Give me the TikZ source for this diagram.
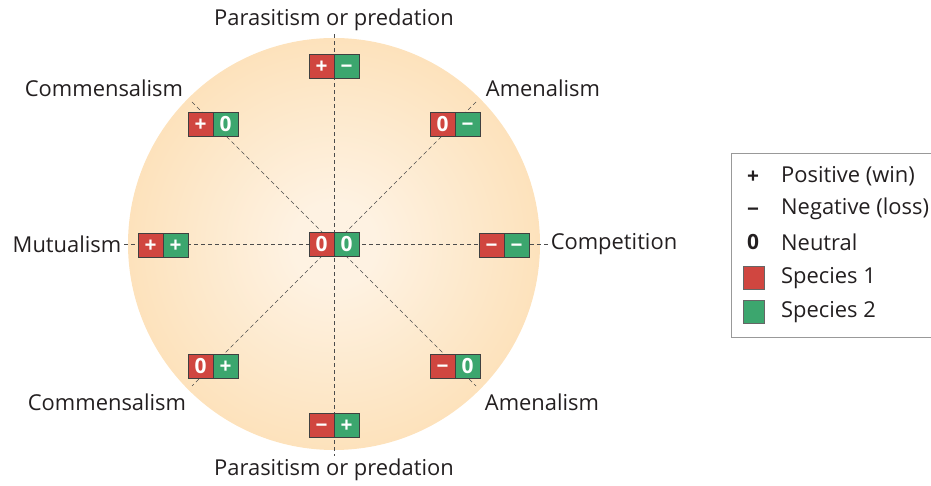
\documentclass[tikz,border=0pt]{standalone}
\usepackage{fontspec}
\setmainfont{Open Sans}
\usetikzlibrary{positioning}
\definecolor{sp1}{RGB}{208,70,64}
\definecolor{sp2}{RGB}{60,166,110}
\definecolor{rimorange}{RGB}{251,206,140}
\definecolor{coreorange}{RGB}{254,242,226}
\definecolor{inktext}{RGB}{35,31,32}
\pgfdeclareradialshading{glow}{\pgfpointorigin}{color(0bp)=(coreorange); color(5bp)=(coreorange); color(50bp)=(rimorange)}
\tikzset{
  half/.style={rectangle,draw=black!75,line width=0.7pt,outer sep=0pt,
    minimum width=25bp,minimum height=24bp,inner sep=0pt,
    text height=15bp,text depth=0bp,
    text=white,font=\fontsize{21}{21}\selectfont\bfseries},
  sp_a/.style={half,fill=sp1},
  sp_b/.style={half,fill=sp2},
  kind/.style={font=\fontsize{22}{26}\selectfont,text=inktext,inner sep=3bp},
  guide/.style={draw=black!70,line width=0.7pt,dash pattern=on 4bp off 3bp},
  legendframe/.style={rectangle,draw=black!40,line width=1pt,fill=white,
    minimum width=210bp,minimum height=184bp,inner sep=0pt},
  keysym/.style={font=\fontsize{21}{24}\selectfont\bfseries,text=inktext,inner sep=0pt,
    text height=15bp,text depth=0bp},
  keytext/.style={kind,anchor=west,inner sep=0pt},
  swatch/.style={rectangle,draw=black!60,line width=0.6pt,minimum width=21bp,minimum height=23bp,inner sep=0pt},
}
% one interaction = red half (species 1) + green half (species 2)
\newcommand{\duo}[4]{%
  \node (#1a) [sp_a,anchor=east] at (#2) {#3};
  \node (#1b) [sp_b,right=0pt of #1a] {#4};}

\begin{document}
\begin{tikzpicture}[x=1bp,y=-1bp]
  \useasboundingbox (0,0) rectangle (931,486);
  \shade[shading=glow] (334,244) circle (206bp);

  % interaction names
  \node (parTop) [kind] at (334,20) {Parasitism or predation};
  \node (parBot) [kind] at (334,470) {Parasitism or predation};
  \node (comTop) [kind] at (104,88) {Commensalism};
  \node (amnTop) [kind] at (543,88) {Amenalism};
  \node (mut)    [kind] at (67,244) {Mutualism};
  \node (cmp)    [kind] at (614,244) {Competition};
  \node (comBot) [kind] at (107,402) {Commensalism};
  \node (amnBot) [kind] at (542,402) {Amenalism};

  % ends of the diagonals
  \coordinate (nw) at (192,102);
  \coordinate (ne) at (476,102);
  \coordinate (sw) at (192,386);
  \coordinate (se) at (476,386);

  \draw[guide] (parTop) -- (parBot);
  \draw[guide] (mut) -- (cmp);
  \draw[guide] (nw) -- (se);
  \draw[guide] (ne) -- (sw);

  % outcome boxes
  \duo{mid}{334,244}{0}{0}
  \duo{n}{334,66}{+}{−}
  \duo{s}{334,425}{−}{+}
  \duo{w}{163,245}{+}{+}
  \duo{e}{504,245}{−}{−}
  \duo{nwb}{213,124}{+}{0}
  \duo{neb}{455,124}{0}{−}
  \duo{swb}{213,366}{0}{+}
  \duo{seb}{455,366}{−}{0}

  % key
  \node (legend) [legendframe,anchor=north west] at (731,153) {};
  \node (kPos)  [keysym] at (753,176) {+};
  \node (kNeg)  [keysym] at (753,209) {−};
  \node (kZero) [keysym] at (753,242) {0};
  \node (kSp1)  [swatch,fill=sp1] at (754,278) {};
  \node (kSp2)  [swatch,fill=sp2] at (754,312) {};
  \node (tPos)  [keytext] at (781,176) {Positive (win)};
  \node (tNeg)  [keytext] at (781,209) {Negative (loss)};
  \node (tZero) [keytext] at (781,242) {Neutral};
  \node (tSp1)  [keytext] at (781,278) {Species 1};
  \node (tSp2)  [keytext] at (781,312) {Species 2};
\end{tikzpicture}
\end{document}
